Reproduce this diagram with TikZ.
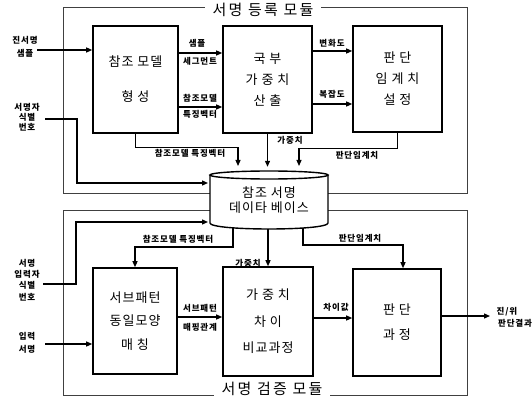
\documentclass[tikz,border=0pt]{standalone}
\usepackage{fontspec}
\setmainfont{Noto Sans CJK KR}
\newfontfamily\boxfont[LetterSpace=8]{Noto Sans CJK KR}
\newfontfamily\lblfont[LetterSpace=10]{Noto Sans CJK KR}
\newfontfamily\ttlfont[LetterSpace=15]{Noto Sans CJK KR}
\usetikzlibrary{arrows.meta}
\begin{document}
\begin{tikzpicture}[x=1pt,y=-1pt,
  blk/.style={draw, line width=1.6pt, inner sep=0pt, align=center},
  bt/.style={font=\boxfont\fontsize{13}{#1}\selectfont},
  lbl/.style={inner sep=0pt, align=center, font=\lblfont\bfseries\fontsize{8.5}{10}\selectfont},
  arr/.style={line width=1.2pt, -{Triangle[length=6pt,width=5pt]}},
  modbox/.style={draw=black!75, line width=1pt},
  ttl/.style={fill=white, inner xsep=8pt, inner ysep=1pt, font=\ttlfont\fontsize{15}{15}\selectfont}]
\useasboundingbox (0,0) rectangle (532,398);
\fill[white] (0,0) rectangle (532,398);

% module frames
\draw[modbox] (63,8) rectangle (467,193);
\draw[modbox] (63,210) rectangle (467,395);
\node[ttl] (t1) at (263,10) {서명 등록 모듈};
\node[ttl] (t2) at (272,388.5) {서명 검증 모듈};

% blocks of the registration module
\node[blk, minimum width=85pt, minimum height=107pt, bt=35] (A) at (135.5,79.5) {참조 모델\\형 성};
\node[blk, minimum width=89pt, minimum height=107pt, bt=21] (B) at (267.5,79.5) {국 부\\가 중 치\\산 출};
\node[blk, minimum width=89pt, minimum height=106pt, bt=21] (C) at (397.5,79) {판 단\\임 계 치\\설 정};

% blocks of the verification module
\node[blk, minimum width=84pt, minimum height=106pt, bt=23.5] (D) at (135,321) {서브패턴\\동일모양\\매 칭};
\node[blk, minimum width=90pt, minimum height=109pt, bt=26.5] (E) at (268,321.5) {가 중 치\\차 이\\비교과정};
\node[blk, minimum width=88pt, minimum height=107pt, bt=25] (F) at (397,322.5) {판 단\\과 정};

% database cylinder
\draw[line width=1.4pt, fill=white] (210,175) -- (210,223) .. controls (210,231) and (328,231) .. (328,223) -- (328,175);
\draw[line width=1.4pt, fill=white] (269,175) ellipse [x radius=59, y radius=4];
\node[inner sep=0pt, align=center, bt=15] (db) at (269,200) {참조 서명\\데이타 베이스};

% input labels
\node[lbl, font=\lblfont\bfseries\fontsize{8.5}{13}\selectfont] (in1) at (25,46.5) {진서명\\샘플};
\node[lbl] (in2) at (27,117) {서명자\\식별\\번호};
\node[lbl, font=\lblfont\bfseries\fontsize{8.5}{11.3}\selectfont] (in3) at (27,280) {서명\\입력자\\식별\\번호};
\node[lbl, font=\lblfont\bfseries\fontsize{8.5}{13}\selectfont] (in4) at (27,342.5) {입력\\서명};
\node[lbl] (out1) at (507,312) {진/위};
\node[lbl] (out2) at (515,323) {판단결과};

\coordinate (s1) at (37,50);
\coordinate (s2) at (45,119);
\coordinate (s3) at (43,284);
\coordinate (s4) at (45,344);
\coordinate (dbL1) at (208,183);
\coordinate (dbL2) at (208,222);
\coordinate (o1) at (490,316);

% connectors, registration
\draw[arr] (s1) -- (A.west |- s1);
\draw[arr] (A.east |- 0,53) -- (B.west |- 0,53);
\draw[arr] (A.east |- 0,107) -- (B.west |- 0,107);
\draw[arr] (B.east |- 0,51) -- (C.west |- 0,51);
\draw[arr] (B.east |- 0,104) -- (C.west |- 0,104);
\draw[arr] (s2) -- (77,119) -- (77,183) -- (dbL1);
\draw[arr] (A.south) -- ++(0,14) -| (238,166);
\draw[arr] (B.south) -- ++(0,33);
\draw[arr] (C.south) -- ++(0,16) -| (299,166);

% connectors, verification
\draw[arr] (s3) -- (76,284) -- (76,222) -- (dbL2);
\draw[arr] (233,228) -- (233,247) -| (D.north);
\draw[arr] (E.north |- 0,229) -- (E.north);
\draw[arr] (303,228) -- (303,245) -| ([xshift=6pt]F.north);
\draw[arr] (D.east |- 0,317) -- (E.west |- 0,317);
\draw[arr] (s4) -- (D.west |- s4);
\draw[arr] (E.east |- 0,318) -- (F.west |- 0,318);
\draw[arr] (F.east |- o1) -- (o1);

% connector labels
\node[lbl] (l1) at (197,43) {샘플};
\node[lbl] (l2) at (200,61) {세그먼트};
\node[lbl] (l3) at (200,98) {참조모델};
\node[lbl] (l4) at (200,114) {특징벡터};
\node[lbl] (l5) at (332,43) {변화도};
\node[lbl] (l6) at (332,94) {복잡도};
\node[lbl] (l7) at (190,153) {참조모델 특징벡터};
\node[lbl] (l8) at (290,140) {가중치};
\node[lbl] (l9) at (357,155) {판단임계치};
\node[lbl] (l10) at (178,239) {참조모델 특징벡터};
\node[lbl] (l11) at (248,263) {가중치};
\node[lbl] (l12) at (360,238) {판단임계치};
\node[lbl] (l13) at (200,308) {서브패턴};
\node[lbl] (l14) at (200,327) {매핑관계};
\node[lbl] (l15) at (336,307) {차이값};
\end{tikzpicture}
\end{document}
